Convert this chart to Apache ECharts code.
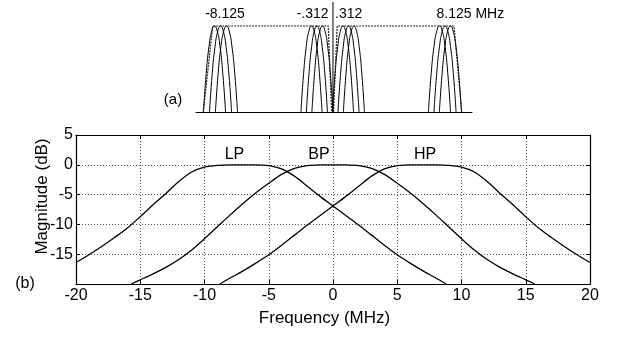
<!DOCTYPE html>
<html><head><meta charset="utf-8">
<script src="https://cdn.jsdelivr.net/npm/echarts@6/dist/echarts.min.js"></script>
<style>html,body{margin:0;padding:0;background:#fff}#c{width:617px;height:337px}</style>
</head><body><div id="c"></div>
<script>
// ---- (b) filter magnitude responses ----
const lpFreq = [-20,-19,-18,-17,-16,-15,-14,-13,-12,-11,-10,-9,-8,-7,-6,-5,-4,-3,-2,-1,0,1,2,3,4,5,6,7,8,8.8];
const lpMag  = [-16.4,-15.1,-13.7,-12.2,-10.6,-8.7,-6.7,-4.8,-2.8,-1.2,-0.4,-0.1,0,0,0,-0.15,-0.7,-1.9,-3.6,-5.3,-6.9,-8.5,-10.1,-11.8,-13.5,-15.1,-16.5,-17.8,-19.0,-20];
const bpFreq = [-15.7,-15,-14,-13,-12,-11,-10,-9,-8,-7,-6,-5,-4,-3,-2,-1,0,1,2,3,4,5,6,7,8,9,10,11,12,13,14,15,15.7];
const bpMag  = [-20,-19.3,-18.3,-17.2,-15.9,-14.3,-12.4,-10.4,-8.4,-6.5,-4.7,-3.1,-1.6,-0.6,-0.15,-0.02,0,-0.02,-0.15,-0.6,-1.6,-3.1,-4.7,-6.5,-8.4,-10.4,-12.4,-14.3,-15.9,-17.2,-18.3,-19.3,-20];
const hpFreq = [-8.8,-8,-7,-6,-5,-4,-3,-2,-1,0,1,2,3,4,5,6,7,8,9,10,11,12,13,14,15,16,17,18,19,20];
const hpMag  = [-20,-19.0,-17.8,-16.5,-15.1,-13.5,-11.8,-10.1,-8.5,-6.9,-5.3,-3.6,-1.9,-0.7,-0.15,0,0,0,-0.1,-0.4,-1.2,-2.8,-4.8,-6.7,-8.7,-10.6,-12.2,-13.7,-15.1,-16.4];
const curveNames = ['LP','BP','HP'];
const xTicks = [-20,-15,-10,-5,0,5,10,15,20];
const yTicks = [-15,-10,-5,0,5];
const xName = 'Frequency (MHz)';
const yName = 'Magnitude (dB)';

// ---- (a) schematic filter bank (schematic units) ----
const archCenters = [-9.22,-8.75,-8.29, -1.67,-1.25,-0.82, 0.78,1.21,1.63, 8.29,8.72,9.14];
const archHalfWidths = [0.86,0.86,0.86, 0.82,0.82,0.82, 0.82,0.82,0.82, 0.86,0.86,0.86];
const archProfileOffsets = [-1,-0.75,-0.5,-0.25,0,0.25,0.5,0.75,1];
const archProfileHeights = [0,0.45,0.76,0.94,1,0.94,0.76,0.45,0];
const envLeftX = [-10.09,-9.36,-0.37,-0.10];
const envLeftY = [0,1,1,0];
const envRightX = [0.04,0.33,9.42,10.02];
const envRightY = [0,1,1,0];
const centerLineX = [0,0];
const centerLineY = [0,1.28];
const topLabels = ['-8.125','-.312','.312','8.125 MHz'];

const FONT = '"Liberation Sans", Arial, sans-serif';
const pairs = (xs, ys) => xs.map((x, i) => [x, ys[i]]);
const chart = echarts.init(document.getElementById('c'), null, {renderer: 'canvas'});

const series = [];
[[lpFreq, lpMag], [bpFreq, bpMag], [hpFreq, hpMag]].forEach((d, i) => {
  series.push({
    name: curveNames[i], type: 'line', xAxisIndex: 0, yAxisIndex: 0,
    data: pairs(d[0], d[1]), smooth: 0.3, showSymbol: false, silent: true,
    lineStyle: {color: '#000', width: 1.3}, clip: true
  });
});
archCenters.forEach((c, k) => {
  const xs = archProfileOffsets.map(o => c + o * archHalfWidths[k]);
  series.push({
    type: 'line', xAxisIndex: 2, yAxisIndex: 2, data: pairs(xs, archProfileHeights),
    smooth: 0.5, showSymbol: false, silent: true, lineStyle: {color: '#000', width: 1}
  });
});
[[envLeftX, envLeftY], [envRightX, envRightY]].forEach(d => {
  series.push({
    type: 'line', xAxisIndex: 2, yAxisIndex: 2, data: pairs(d[0], d[1]),
    showSymbol: false, silent: true, lineStyle: {color: '#222', width: 1.2, type: [2, 1]}
  });
});
series.push({
  type: 'line', xAxisIndex: 2, yAxisIndex: 2, data: pairs(centerLineX, centerLineY),
  showSymbol: false, silent: true, lineStyle: {color: '#000', width: 1}
});

const txt = (t, x, y, align, size, extra) => Object.assign({
  type: 'text', x: x, y: y, silent: true,
  style: {text: t, fill: '#000', font: (size || 16) + 'px ' + FONT, textAlign: align || 'center', textVerticalAlign: 'middle'}
}, extra || {});

const dotted = {show: true, lineStyle: {color: '#555', width: 1, type: [1, 2]}};
const blackLine = {show: true, onZero: false, lineStyle: {color: '#000', width: 1.2}};
const inTick = {show: true, inside: true, length: 4, lineStyle: {color: '#000'}};

chart.setOption({
  animation: false,
  backgroundColor: '#fff',
  grid: [
    {left: 76, right: 27, top: 135, height: 149, show: false},
    {left: 196, right: 145, top: 0, height: 112, show: false}
  ],
  xAxis: [
    {type: 'value', gridIndex: 0, min: -20, max: 20, interval: 5, position: 'bottom',
     axisLine: blackLine, axisTick: inTick,
     axisLabel: {color: '#000', fontSize: 16, fontFamily: FONT, margin: 4,
       formatter: v => xTicks.includes(v) ? String(v) : ''},
     splitLine: dotted},
    {type: 'value', gridIndex: 0, min: -20, max: 20, interval: 5, position: 'top',
     axisLine: blackLine, axisTick: inTick,
     axisLabel: {show: false}, splitLine: {show: false}},
    {type: 'value', gridIndex: 1, min: -10.66, max: 10.82, position: 'bottom',
     axisLine: {show: true, onZero: false, lineStyle: {color: '#000', width: 1}},
     axisTick: {show: false}, axisLabel: {show: false}, splitLine: {show: false}}
  ],
  yAxis: [
    {type: 'value', gridIndex: 0, min: -20, max: 5, interval: 5, position: 'left',
     axisLine: blackLine, axisTick: inTick,
     axisLabel: {color: '#000', fontSize: 16, fontFamily: FONT, margin: 3,
       formatter: v => yTicks.includes(v) ? String(v) : ''},
     splitLine: dotted},
    {type: 'value', gridIndex: 0, min: -20, max: 5, interval: 5, position: 'right',
     axisLine: blackLine, axisTick: inTick,
     axisLabel: {show: false}, splitLine: {show: false}},
    {type: 'value', gridIndex: 1, min: 0, max: 1.302, show: false}
  ],
  series: series,
  graphic: [
    txt(yName, 42, 196.5, 'center', 17, {rotation: Math.PI / 2}),
    txt(xName, 324.5, 318.5, 'center', 17),
    txt('(b)', 25, 284, 'center', 16),
    txt('(a)', 173, 100, 'center', 15),
    txt(curveNames[0], 234.5, 154.5, 'center', 16),
    txt(curveNames[1], 319, 154.5, 'center', 16),
    txt(curveNames[2], 425, 154.5, 'center', 16),
    txt(topLabels[0], 225, 14.5, 'center', 14),
    txt(topLabels[1], 328.5, 14.5, 'right', 14),
    txt(topLabels[2], 335, 14.5, 'left', 14),
    txt(topLabels[3], 436.5, 14.5, 'left', 14)
  ]
});
</script></body></html>
